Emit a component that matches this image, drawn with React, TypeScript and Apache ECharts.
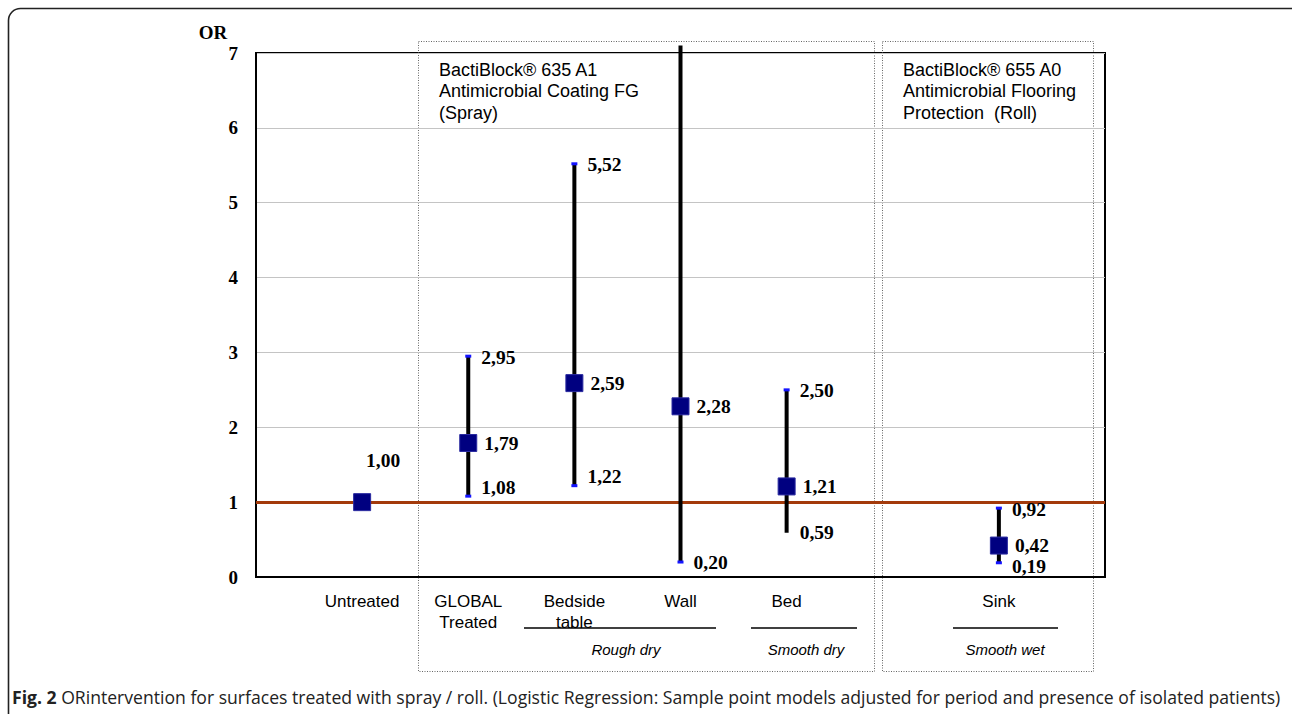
import React, { useEffect, useRef } from "react";
import * as echarts from "echarts";

// ---- data ----
const categories = ["Untreated", "GLOBAL\nTreated", "Bedside\ntable", "Wall", "Bed", "Sink"];
const positions = [1, 2, 3, 4, 5, 7];
const orValues = [1.0, 1.79, 2.59, 2.28, 1.21, 0.42];
const ciLower: (number | null)[] = [null, 1.08, 1.22, 0.2, 0.59, 0.19];
const ciUpper: (number | null)[] = [null, 2.95, 5.52, 7.1, 2.5, 0.92];
const capLower = [false, true, true, true, false, true];
const capUpper = [false, true, true, false, true, true];
const upperLabel = [false, true, true, false, true, true];
const yTicks = [0, 1, 2, 3, 4, 5, 6, 7];
const referenceOR = 1;

const groupLabels = ["Rough dry", "Smooth dry", "Smooth wet"];
const box1Text = "BactiBlock® 635 A1\nAntimicrobial Coating FG\n(Spray)";
const box2Text = "BactiBlock® 655 A0\nAntimicrobial Flooring\nProtection  (Roll)";
const caption =
  "ORintervention for surfaces treated with spray / roll. (Logistic Regression: Sample point models adjusted for period and presence of isolated patients)";

const fmt = (v: number) => v.toFixed(2).replace(".", ",");
const SERIF = '"Liberation Serif", "Times New Roman", serif';
const SANS = '"Liberation Sans", Arial, sans-serif';
const CAP_FONT = '"Open Sans", "Noto Sans", sans-serif';

export default function App() {
  const ref = useRef<HTMLDivElement>(null);
  useEffect(() => {
    if (!ref.current) return;
    const chart = echarts.init(ref.current, null, { renderer: "svg" });
    const valFont = { fontFamily: SERIF, fontWeight: "bold" as const, fontSize: 19.5, fill: "#000" };

    const option: any = {
      animation: false,
      backgroundColor: "#fff",
      grid: { left: 256, right: 187, top: 53, bottom: 137, show: true, borderColor: "#000", borderWidth: 2 },
      xAxis: {
        type: "value",
        min: 0,
        max: 8,
        interval: 1,
        axisLine: { show: true, lineStyle: { color: "#000", width: 2 } },
        axisTick: { show: false },
        splitLine: { show: false },
        axisLabel: {
          margin: 14,
          color: "#000",
          fontFamily: SANS,
          fontSize: 17,
          lineHeight: 21,
          verticalAlign: "top",
          formatter: (v: number) => {
            const i = positions.indexOf(v);
            return i >= 0 ? categories[i] : "";
          },
        },
      },
      yAxis: {
        type: "value",
        min: 0,
        max: 7,
        interval: 1,
        axisLine: { show: true, lineStyle: { color: "#000", width: 2 } },
        axisTick: { show: false },
        splitLine: { show: true, lineStyle: { color: "#c4c4c4", width: 1 } },
        axisLabel: {
          margin: 18,
          color: "#000",
          fontFamily: SERIF,
          fontWeight: "bold",
          fontSize: 19,
          formatter: (v: number) => (yTicks.includes(v) ? String(v) : ""),
        },
      },
      series: [
        {
          type: "line",
          z: 1,
          data: [],
          markLine: {
            silent: true,
            symbol: "none",
            label: { show: false },
            lineStyle: { color: "#a33a0b", width: 3, type: "solid" },
            data: [{ yAxis: referenceOR }],
          },
        },
        {
          type: "custom",
          z: 5,
          clip: false,
          data: positions.map((p, i) => [p, orValues[i]]),
          renderItem: (params: any, api: any) => {
            const i = params.dataIndex;
            const [px, py] = api.coord([positions[i], orValues[i]]);
            const children: any[] = [];
            const lo = ciLower[i];
            const hi = ciUpper[i];
            if (lo != null && hi != null) {
              const yl = api.coord([positions[i], lo])[1];
              const yh = api.coord([positions[i], hi])[1];
              children.push({
                type: "line",
                shape: { x1: px, y1: yl, x2: px, y2: yh },
                style: { stroke: "#000", lineWidth: 4 },
              });
              if (capLower[i])
                children.push({ type: "rect", shape: { x: px - 3, y: yl - 1.5, width: 6, height: 3 }, style: { fill: "#1414ff" } });
              if (capUpper[i])
                children.push({ type: "rect", shape: { x: px - 3, y: yh - 1.5, width: 6, height: 3 }, style: { fill: "#1414ff" } });
              let dyLo = lo > referenceOR && lo < referenceOR + 0.3 ? -9 : 0;
              if (orValues[i] - lo < 0.3) dyLo = 4;
              children.push({
                type: "text",
                style: { ...valFont, text: fmt(lo), x: px + 13, y: yl + dyLo, align: "left", verticalAlign: "middle" },
              });
              if (upperLabel[i])
                children.push({
                  type: "text",
                  style: { ...valFont, text: fmt(hi), x: px + 13, y: yh + 1, align: "left", verticalAlign: "middle" },
                });
              children.push({
                type: "text",
                style: { ...valFont, text: fmt(orValues[i]), x: px + 16, y: py, align: "left", verticalAlign: "middle" },
              });
            } else {
              children.push({
                type: "text",
                style: { ...valFont, text: fmt(orValues[i]), x: px + 21, y: py - 42, align: "center", verticalAlign: "middle" },
              });
            }
            children.push({
              type: "rect",
              shape: { x: px - 8.5, y: py - 8.5, width: 17, height: 17 },
              style: { fill: "#000080", stroke: "#2a2aa0", lineWidth: 1 },
            });
            return { type: "group", children };
          },
        },
      ],
      graphic: [
        {
          type: "rect",
          z: -10,
          shape: { x: 8.5, y: 8.5, width: 1320, height: 740, r: 12 },
          style: { fill: "none", stroke: "#222", lineWidth: 1.6 },
        },
        {
          type: "rect",
          z: 0,
          shape: { x: 418.5, y: 41.5, width: 456, height: 630 },
          style: { fill: "none", stroke: "#666", lineWidth: 1, lineDash: [1, 1.5] },
        },
        {
          type: "rect",
          z: 0,
          shape: { x: 882.5, y: 41.5, width: 211, height: 630 },
          style: { fill: "none", stroke: "#666", lineWidth: 1, lineDash: [1, 1.5] },
        },
        {
          type: "text",
          z: 10,
          style: { text: box1Text, x: 439, y: 59, fontFamily: SANS, fontSize: 18, lineHeight: 21.5, fill: "#000" },
        },
        {
          type: "text",
          z: 10,
          style: { text: box2Text, x: 903, y: 59, fontFamily: SANS, fontSize: 18, lineHeight: 21.5, fill: "#000" },
        },
        {
          type: "text",
          style: { text: "OR", x: 213, y: 32, align: "center", verticalAlign: "middle", fontFamily: SERIF, fontWeight: "bold", fontSize: 19, fill: "#000" },
        },
        { type: "line", shape: { x1: 524, y1: 628, x2: 716, y2: 628 }, style: { stroke: "#000", lineWidth: 1.3 } },
        { type: "line", shape: { x1: 751, y1: 628, x2: 857, y2: 628 }, style: { stroke: "#000", lineWidth: 1.3 } },
        { type: "line", shape: { x1: 953, y1: 628, x2: 1058, y2: 628 }, style: { stroke: "#000", lineWidth: 1.3 } },
        {
          type: "text",
          style: { text: groupLabels[0], x: 626, y: 649, align: "center", verticalAlign: "middle", fontFamily: SANS, fontStyle: "italic", fontSize: 15, fill: "#000" },
        },
        {
          type: "text",
          style: { text: groupLabels[1], x: 806, y: 649, align: "center", verticalAlign: "middle", fontFamily: SANS, fontStyle: "italic", fontSize: 15, fill: "#000" },
        },
        {
          type: "text",
          style: { text: groupLabels[2], x: 1005, y: 649, align: "center", verticalAlign: "middle", fontFamily: SANS, fontStyle: "italic", fontSize: 15, fill: "#000" },
        },
        {
          type: "text",
          style: {
            text: "{b|Fig. 2} " + caption,
            x: 12,
            y: 697,
            verticalAlign: "middle",
            fontFamily: CAP_FONT,
            fontSize: 17.6,
            fill: "#222",
            rich: { b: { fontWeight: "bold", fontFamily: CAP_FONT, fontSize: 17.6, fill: "#222" } },
          },
        },
      ],
    };
    chart.setOption(option);
    return () => chart.dispose();
  }, []);
  return (
    <div
      ref={ref}
      style={{ position: "absolute", left: 0, top: 0, width: 1292, height: 714, background: "#fff" }}
    />
  );
}
